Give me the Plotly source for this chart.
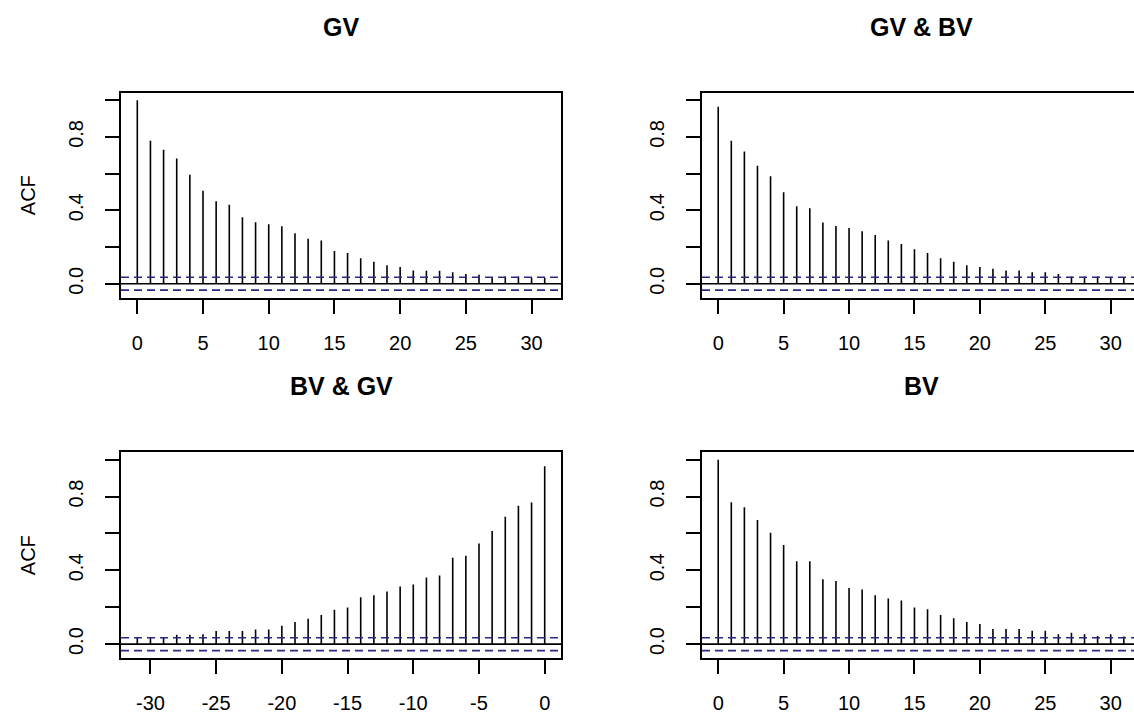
import plotly.graph_objects as go

# ---------------- data ----------------
lags_pos = [0, 1, 2, 3, 4, 5, 6, 7, 8, 9, 10, 11, 12, 13, 14, 15,
            16, 17, 18, 19, 20, 21, 22, 23, 24, 25, 26, 27, 28, 29, 30, 31]
lags_neg = [-31, -30, -29, -28, -27, -26, -25, -24, -23, -22, -21, -20, -19, -18, -17, -16,
            -15, -14, -13, -12, -11, -10, -9, -8, -7, -6, -5, -4, -3, -2, -1, 0]

acf_gv = [1.000, 0.779, 0.730, 0.683, 0.594, 0.507, 0.449, 0.431, 0.362, 0.335, 0.324,
          0.313, 0.275, 0.245, 0.236, 0.178, 0.168, 0.139, 0.120, 0.100, 0.091, 0.072,
          0.071, 0.071, 0.062, 0.053, 0.049, 0.036, 0.040, 0.040, 0.033, 0.033]
acf_gv_bv = [0.964, 0.779, 0.721, 0.643, 0.585, 0.498, 0.422, 0.411, 0.333, 0.315, 0.304,
             0.286, 0.266, 0.236, 0.217, 0.188, 0.168, 0.139, 0.120, 0.101, 0.091, 0.082,
             0.072, 0.072, 0.063, 0.063, 0.053, 0.040, 0.040, 0.040, 0.034, 0.033]
acf_bv_gv = [0.038, 0.038, 0.038, 0.051, 0.051, 0.053, 0.071, 0.071, 0.071, 0.080, 0.080,
             0.100, 0.120, 0.138, 0.158, 0.187, 0.198, 0.254, 0.265, 0.285, 0.312, 0.323,
             0.361, 0.372, 0.468, 0.479, 0.546, 0.613, 0.691, 0.750, 0.768, 0.964]
acf_bv = [1.000, 0.769, 0.742, 0.673, 0.604, 0.537, 0.450, 0.450, 0.352, 0.343, 0.305,
          0.296, 0.265, 0.247, 0.236, 0.198, 0.189, 0.158, 0.140, 0.120, 0.109, 0.082,
          0.082, 0.082, 0.073, 0.073, 0.053, 0.062, 0.053, 0.044, 0.053, 0.042]

conf_limit = 0.035

titles = ["GV", "GV & BV", "BV & GV", "BV"]
ytick_vals = [0.0, 0.2, 0.4, 0.6, 0.8, 1.0]
ytick_text = ["0.0", "", "0.4", "", "0.8", ""]
xtick_pos = [0, 5, 10, 15, 20, 25, 30]
xtick_neg = [-30, -25, -20, -15, -10, -5, 0]

# ---------------- layout geometry (pixels) ----------------
W, H = 1134, 714
# left, right(full, may exceed page), top, bottom of each plot box
boxes = [(121, 561, 93, 299), (702, 1140, 93, 299),
         (121, 561, 454, 661), (702, 1140, 454, 661)]
panels = [(lags_pos, acf_gv, xtick_pos, True),
          (lags_pos, acf_gv_bv, xtick_pos, False),
          (lags_neg, acf_bv_gv, xtick_neg, True),
          (lags_pos, acf_bv, xtick_pos, False)]

FONT = "Arial, Liberation Sans, sans-serif"
CI_COLOR = "#2a2a85"
TICK_SIZE = 20
TITLE_SIZE = 25
LW = 1.6

fig = go.Figure()
layout = dict(width=W, height=H, margin=dict(l=0, r=0, t=0, b=0),
              paper_bgcolor="white", plot_bgcolor="white", showlegend=False,
              font=dict(family=FONT, size=TICK_SIZE, color="black"))
shapes = []
annotations = []

for i, ((L, R, T, B), (lags, vals, xticks, left_col)) in enumerate(zip(boxes, panels), start=1):
    xa = "x" if i == 1 else f"x{i}"
    ya = "y" if i == 1 else f"y{i}"
    # R-style 4% range extension
    lo, hi = min(lags), max(lags)
    span = hi - lo
    xlo, xhi = lo - 0.04 * span, hi + 0.04 * span
    visR = min(R, W)
    xhi_vis = xlo + (xhi - xlo) * (visR - L) / (R - L)
    ymin = min(min(vals), -conf_limit)
    ymax = max(max(vals), 1.0)
    ys = ymax - ymin
    ylo, yhi = ymin - 0.04 * ys, ymax + 0.04 * ys

    xs, yv = [], []
    for l, v in zip(lags, vals):
        xs += [l, l, None]
        yv += [0, v, None]
    fig.add_trace(go.Scatter(x=xs, y=yv, mode="lines", xaxis=xa, yaxis=ya,
                             line=dict(color="black", width=LW), hoverinfo="skip"))

    axkey_x = "xaxis" if i == 1 else f"xaxis{i}"
    axkey_y = "yaxis" if i == 1 else f"yaxis{i}"
    layout[axkey_x] = dict(domain=[L / W, visR / W], range=[xlo, xhi_vis], anchor=ya,
                           tickvals=xticks, ticktext=[str(t) for t in xticks],
                           ticks="outside", ticklen=14, tickwidth=LW, tickcolor="black",
                           showline=True, mirror=True, linecolor="black", linewidth=LW,
                           showgrid=False, zeroline=False, ticklabelstandoff=12,
                           tickfont=dict(size=TICK_SIZE, family=FONT, color="black"))
    layout[axkey_y] = dict(domain=[1 - B / H, 1 - T / H], range=[ylo, yhi], anchor=xa,
                           tickvals=ytick_vals, ticktext=ytick_text, tickangle=-90,
                           ticks="outside", ticklen=14, tickwidth=LW, tickcolor="black",
                           showline=True, mirror=left_col, linecolor="black", linewidth=LW,
                           showgrid=False, zeroline=False, ticklabelstandoff=14,
                           tickfont=dict(size=TICK_SIZE, family=FONT, color="black"))
    if left_col:
        layout[axkey_y]["title"] = dict(text="ACF", standoff=24,
                                        font=dict(size=TICK_SIZE, family=FONT, color="black"))

    # zero line and confidence limits
    shapes.append(dict(type="line", xref=f"{xa} domain", yref=ya, x0=0, x1=1, y0=0, y1=0,
                       line=dict(color="black", width=LW)))
    for c in (conf_limit, -conf_limit):
        shapes.append(dict(type="line", xref=f"{xa} domain", yref=ya, x0=0, x1=1, y0=c, y1=c,
                           line=dict(color=CI_COLOR, width=LW, dash="8px,5px")))

    # panel title centred over the (full) box
    annotations.append(dict(text=f"<b>{titles[i-1]}</b>", xref="paper", yref="paper",
                            x=((L + R) / 2) / W, y=1 - (T - 66) / H,
                            xanchor="center", yanchor="middle", showarrow=False,
                            font=dict(size=TITLE_SIZE, family=FONT, color="black")))

layout["shapes"] = shapes
layout["annotations"] = annotations
fig.update_layout(**layout)
fig.write_html("out.html")
